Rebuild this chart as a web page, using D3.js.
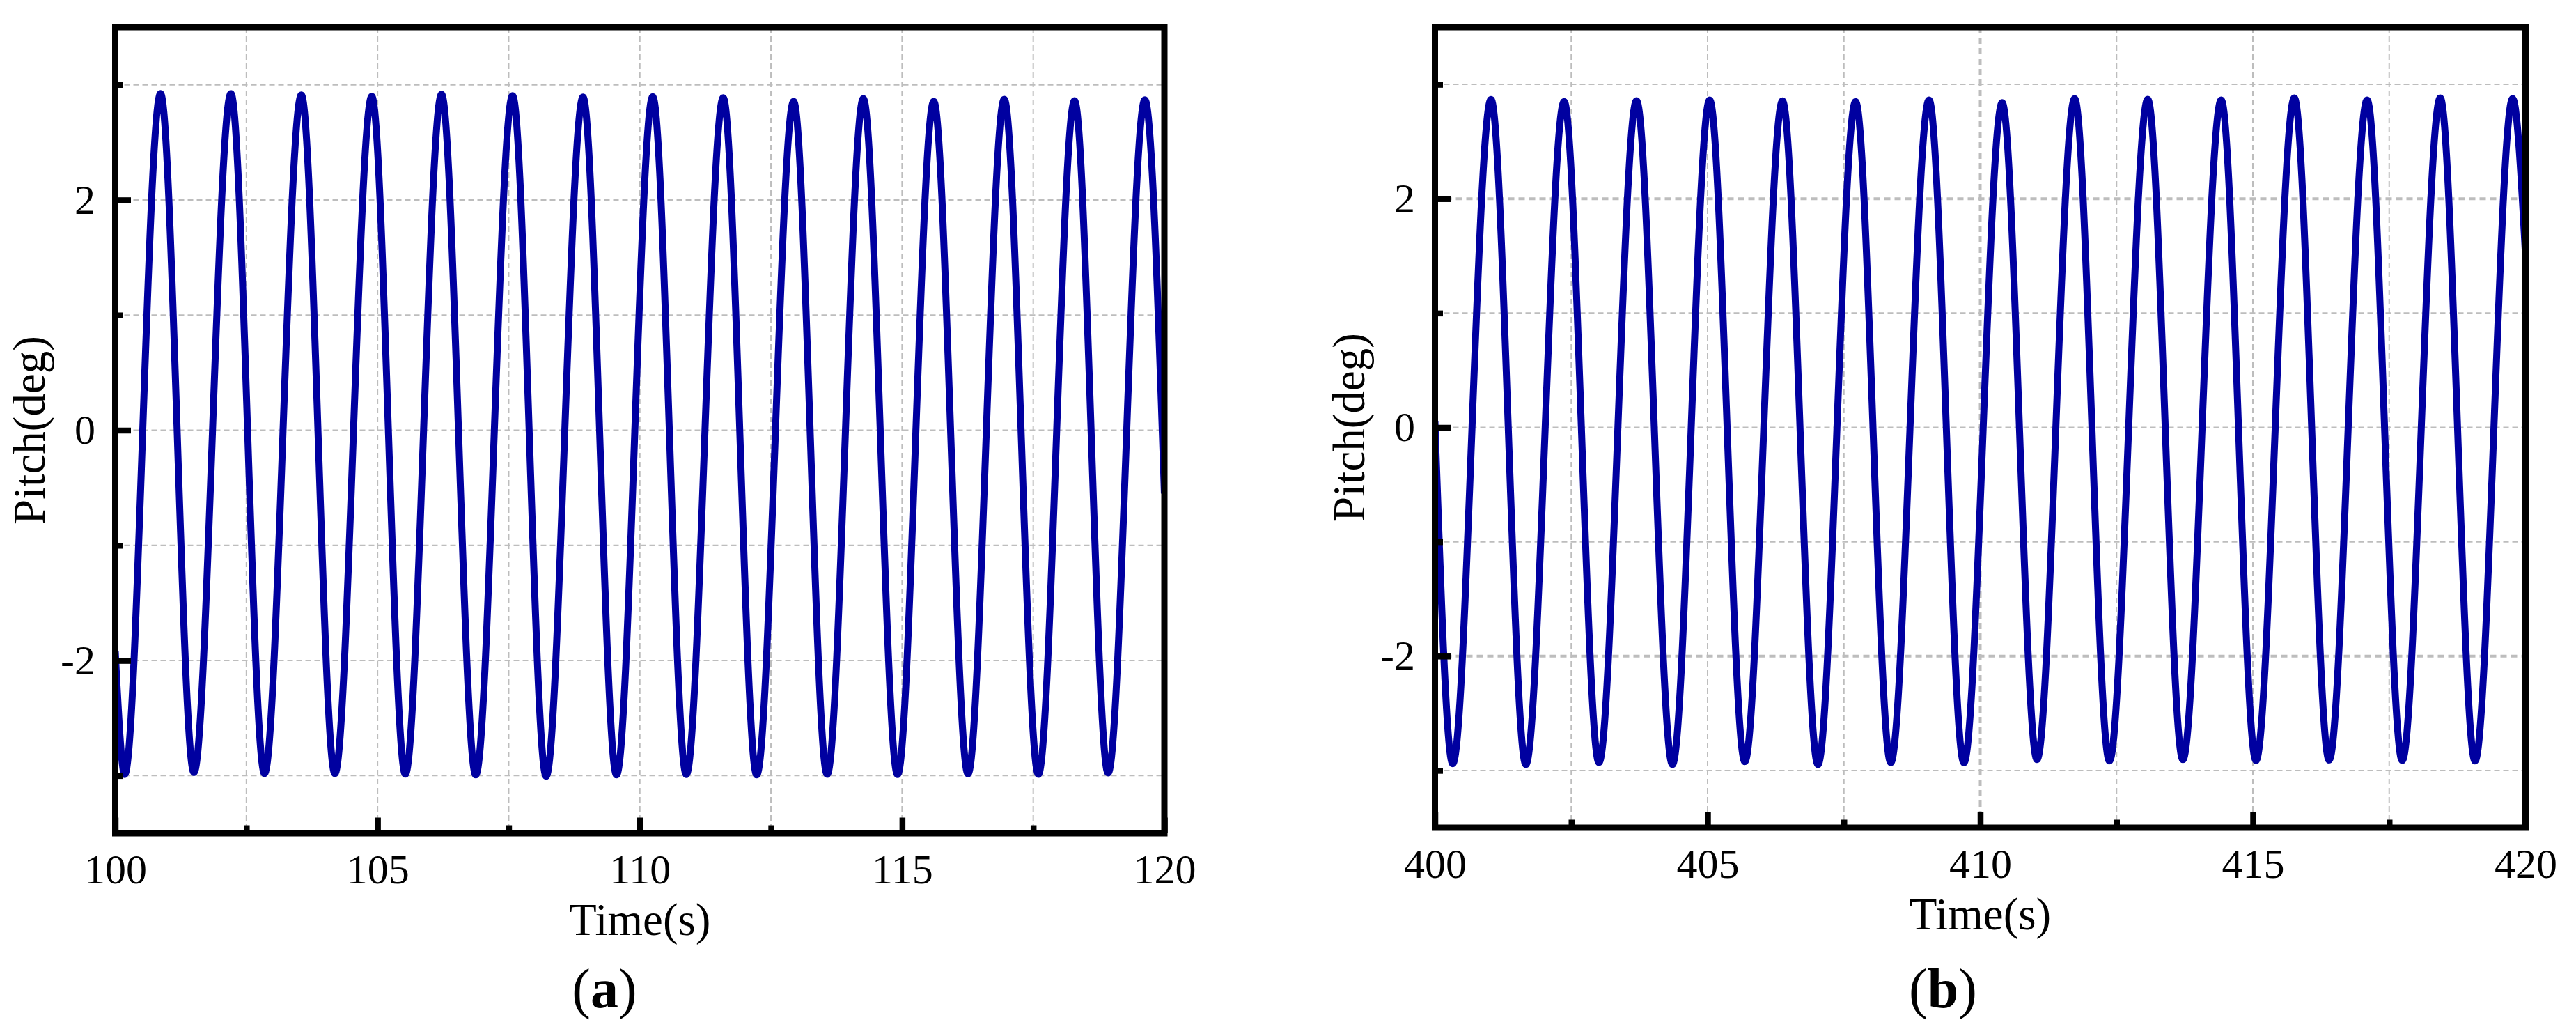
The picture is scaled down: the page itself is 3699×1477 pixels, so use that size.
<!DOCTYPE html>
<html>
<head>
<meta charset="utf-8">
<script src="https://cdn.jsdelivr.net/npm/d3@7"></script>
<style>
  html, body { margin: 0; padding: 0; background: #fff; }
  svg { display: block; }
  text { font-family: "Times New Roman", "Liberation Serif", serif; fill: #000; }
</style>
</head>
<body>
<svg id="chart" width="3699" height="1477"></svg>
<script>
// ---------------- DATA ----------------
// Panel (a): time window 100–120 s; extrema of the pitch oscillation
const timeA = [100.0, 100.18, 100.863, 101.50, 102.205, 102.845, 103.547, 104.187, 104.890,
  105.530, 106.220, 106.872, 107.574, 108.214, 108.917, 109.556, 110.246, 110.886, 111.590,
  112.228, 112.932, 113.571, 114.261, 114.913, 115.603, 116.256, 116.947, 117.597, 118.287,
  118.927, 119.628, 120.0];
const pitchA = [-1.92, -2.99, 2.923, -2.973, 2.923, -2.982, 2.911, -2.982, 2.899,
  -2.988, 2.917, -2.994, 2.905, -3.006, 2.893, -2.994, 2.896, -2.991, 2.887,
  -2.994, 2.856, -2.989, 2.880, -2.991, 2.856, -2.985, 2.874, -2.989, 2.862,
  -2.977, 2.870, -0.55];

// Panel (b): time window 400–420 s
const timeB = [400.0, 400.326, 401.028, 401.667, 402.369, 403.008, 403.697, 404.355, 405.038,
  405.683, 406.373, 407.024, 407.714, 408.359, 409.061, 409.700, 410.402, 411.041, 411.731,
  412.369, 413.072, 413.716, 414.419, 415.057, 415.760, 416.398, 417.095, 417.739, 418.436,
  419.074, 419.764, 420.0];
const pitchB = [0.05, -2.941, 2.868, -2.948, 2.850, -2.931, 2.858, -2.948, 2.864,
  -2.923, 2.856, -2.948, 2.850, -2.931, 2.864, -2.933, 2.840, -2.905, 2.876,
  -2.917, 2.870, -2.905, 2.864, -2.913, 2.882, -2.909, 2.864, -2.913, 2.882,
  -2.917, 2.876, 1.5];

const xMajorA = [100, 105, 110, 115, 120];
const xMinorA = [102.5, 107.5, 112.5, 117.5];
const xMajorB = [400, 405, 410, 415, 420];
const xMinorB = [402.5, 407.5, 412.5, 417.5];
const yMajor = [-2, 0, 2];
const yMinor = [-3, -1, 1, 3];
const yDomain = [-3.5, 3.5];
const xTitle = "Time(s)";
const yTitle = "Pitch(deg)";
const captions = ["a", "b"];

// ---------------- DRAWING ----------------
const svg = d3.select("#chart");
const FONT_TICK = 60, FONT_TITLE = 65, FONT_CAP = 80;
const LINE_COLOR = "#0000a0";
const GRID_COLOR = "#bdbdbd";

const panels = [
  { id: "a", t: timeA, p: pitchA, xDomain: [100, 120], xMajor: xMajorA, xMinor: xMinorA,
    left: 165.5, right: 1672, top: 39, bottom: 1196, capX: 868, thickGridX: [], thickGridY: [] },
  { id: "b", t: timeB, p: pitchB, xDomain: [400, 420], xMajor: xMajorB, xMinor: xMinorB,
    left: 2060.5, right: 3626.5, top: 39, bottom: 1188, capX: 2790, thickGridX: [410], thickGridY: [2, -2] }
];

panels.forEach((P, i) => {
  const x = d3.scaleLinear().domain(P.xDomain).range([P.left, P.right]);
  const y = d3.scaleLinear().domain(yDomain).range([P.bottom, P.top]);
  const g = svg.append("g");

  // clip
  const clipId = "clip" + P.id;
  svg.append("defs").append("clipPath").attr("id", clipId)
    .append("rect").attr("x", P.left).attr("y", P.top)
    .attr("width", P.right - P.left).attr("height", P.bottom - P.top);

  // gridlines
  const gx = [...P.xMajor, ...P.xMinor].filter(v => v > P.xDomain[0] && v < P.xDomain[1]);
  const gy = [...yMajor, ...yMinor];
  g.append("g").selectAll("line").data(gx).join("line")
    .attr("x1", d => x(d)).attr("x2", d => x(d))
    .attr("y1", P.top).attr("y2", P.bottom)
    .attr("stroke", GRID_COLOR)
    .attr("stroke-width", d => P.thickGridX.includes(d) ? 4 : 2)
    .attr("stroke-dasharray", d => P.thickGridX.includes(d) ? "9,6" : "8,5");
  g.append("g").selectAll("line").data(gy).join("line")
    .attr("x1", P.left).attr("x2", P.right)
    .attr("y1", d => y(d)).attr("y2", d => y(d))
    .attr("stroke", GRID_COLOR)
    .attr("stroke-width", d => P.thickGridY.includes(d) ? 4 : 2)
    .attr("stroke-dasharray", d => P.thickGridY.includes(d) ? "9,6" : "8,5");

  // data line
  const data = P.t.map((t, k) => [t, P.p[k]]);
  const line = d3.line().x(d => x(d[0])).y(d => y(d[1])).curve(d3.curveMonotoneX);
  g.append("path").datum(data)
    .attr("clip-path", `url(#${clipId})`)
    .attr("d", line)
    .attr("fill", "none")
    .attr("stroke", LINE_COLOR)
    .attr("stroke-width", 10)
    .attr("stroke-linejoin", "round");

  // axes: major ticks + labels
  const xAxis = d3.axisBottom(x).tickValues(P.xMajor).tickFormat(d3.format("d"))
    .tickSizeInner(-22.5).tickSizeOuter(0).tickPadding(29);
  const xa = g.append("g").attr("transform", `translate(0,${P.bottom})`).call(xAxis);
  const xMinAxis = d3.axisBottom(x).tickValues(P.xMinor).tickFormat("")
    .tickSizeInner(-11.5).tickSizeOuter(0);
  const xm = g.append("g").attr("transform", `translate(0,${P.bottom})`).call(xMinAxis);

  const yAxis = d3.axisLeft(y).tickValues(yMajor).tickFormat(d => d < 0 ? "-" + Math.abs(d) : String(d))
    .tickSizeInner(-22.5).tickSizeOuter(0).tickPadding(28.5);
  const ya = g.append("g").attr("transform", `translate(${P.left},0)`).call(yAxis);
  const yMinAxis = d3.axisLeft(y).tickValues(yMinor).tickFormat("")
    .tickSizeInner(-11.5).tickSizeOuter(0);
  const ym = g.append("g").attr("transform", `translate(${P.left},0)`).call(yMinAxis);

  [xa, xm, ya, ym].forEach(a => {
    a.select(".domain").remove();
    a.selectAll(".tick line").attr("stroke", "#000").attr("stroke-width", 8.5);
    a.selectAll(".tick text")
      .attr("font-family", '"Times New Roman", "Liberation Serif", serif')
      .attr("font-size", FONT_TICK).attr("fill", "#000");
  });

  // frame
  g.append("rect")
    .attr("x", P.left).attr("y", P.top)
    .attr("width", P.right - P.left).attr("height", P.bottom - P.top)
    .attr("fill", "none").attr("stroke", "#000").attr("stroke-width", 9);

  // axis titles
  const cx = (P.left + P.right) / 2;
  g.append("text").attr("x", cx).attr("y", P.bottom + 146)
    .attr("text-anchor", "middle").attr("font-size", FONT_TITLE).text(xTitle);
  const cy = (P.top + P.bottom) / 2;
  g.append("text")
    .attr("transform", `translate(${P.left - 102},${cy}) rotate(-90)`)
    .attr("text-anchor", "middle").attr("font-size", FONT_TITLE).text(yTitle);

  // caption
  const cap = g.append("text").attr("x", P.capX).attr("y", 1446)
    .attr("text-anchor", "middle").attr("font-size", FONT_CAP);
  cap.append("tspan").text("(");
  cap.append("tspan").attr("font-weight", "bold").text(captions[i]);
  cap.append("tspan").text(")");
});
</script>
</body>
</html>
